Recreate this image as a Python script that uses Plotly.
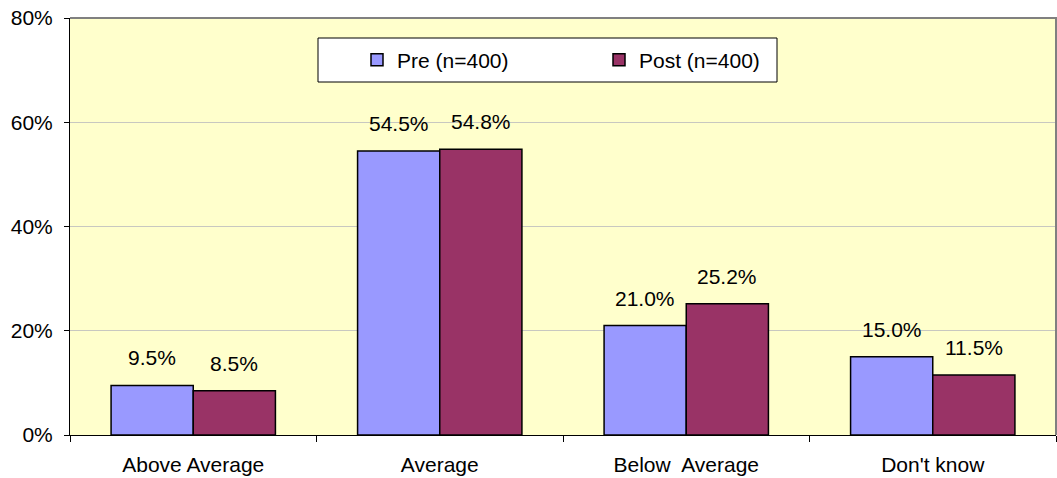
import plotly.graph_objects as go

# Survey responses, pre and post waves (percent of respondents)
categories = ["Above Average", "Average", "Below\u00a0 Average", "Don't know"]
pre_values = [9.5, 54.5, 21.0, 15.0]
post_values = [8.5, 54.8, 25.2, 11.5]
series_names = ["Pre (n=400)", "Post (n=400)"]
y_ticks = [0, 20, 40, 60, 80]

FONT = "Liberation Sans, Arial, sans-serif"
FS = 21
W, H = 1057, 478
M_L, M_R, M_T, M_B = 70, 1, 18, 43
PLOT_W = W - M_L - M_R
PLOT_H = H - M_T - M_B
BAR_PX = PLOT_W / len(categories) / 3  # each bar takes a third of its slot

fig = go.Figure()
fig.add_trace(go.Bar(
    x=categories, y=pre_values, name=series_names[0],
    marker=dict(color="#9999FF", line=dict(color="#000000", width=1.5)),
))
fig.add_trace(go.Bar(
    x=categories, y=post_values, name=series_names[1],
    marker=dict(color="#993366", line=dict(color="#000000", width=1.5)),
))

# value labels above every bar
for vals, shift in ((pre_values, -BAR_PX / 2), (post_values, BAR_PX / 2)):
    for c, v in zip(categories, vals):
        fig.add_annotation(
            x=c, y=v, text=f"{v:.1f}%", showarrow=False,
            xshift=shift, yshift=14, yanchor="bottom",
            font=dict(family=FONT, size=FS, color="#000000"),
        )

# legend frame
def px_x(p):
    return (p - M_L) / PLOT_W

def px_y(p):
    return (H - M_B - p) / PLOT_H

fig.add_shape(
    type="rect", xref="paper", yref="paper",
    x0=px_x(318), x1=px_x(777), y0=px_y(82), y1=px_y(38),
    line=dict(color="#000000", width=1), fillcolor="#FFFFFF", layer="above",
)
# gray frame along the top and right edges of the plot area
fig.add_shape(
    type="path", xref="paper", yref="paper",
    path="M 0 1 L 1 1 L 1 0",
    line=dict(color="#808080", width=2), layer="above",
)

fig.update_layout(
    width=W, height=H,
    margin=dict(l=M_L, r=M_R, t=M_T, b=M_B),
    paper_bgcolor="#FFFFFF",
    plot_bgcolor="#FFFFCC",
    barmode="group",
    bargap=1 / 3,
    bargroupgap=0,
    font=dict(family=FONT, size=FS, color="#000000"),
    showlegend=True,
    legend=dict(
        orientation="h",
        x=px_x(357), xanchor="left",
        y=px_y(60), yanchor="middle",
        bgcolor="rgba(0,0,0,0)",
        borderwidth=0,
        entrywidth=197, entrywidthmode="pixels",
        font=dict(family=FONT, size=FS, color="#000000"),
        traceorder="normal",
    ),
    xaxis=dict(
        showline=True, linecolor="#000000", linewidth=1,
        ticks="outside", ticklen=6, tickcolor="#000000",
        tickson="boundaries",
        ticklabelstandoff=11,
        tickfont=dict(family=FONT, size=FS),
    ),
    yaxis=dict(
        range=[0, 80],
        tickvals=y_ticks,
        ticktext=[f"{t}%" for t in y_ticks],
        showline=True, linecolor="#000000", linewidth=1,
        ticks="outside", ticklen=5, tickcolor="#000000",
        ticklabelstandoff=7,
        showgrid=True, gridcolor="#C8C8C0", gridwidth=1,
        zeroline=False,
        tickfont=dict(family=FONT, size=FS),
    ),
)

fig.write_html("out.html")
